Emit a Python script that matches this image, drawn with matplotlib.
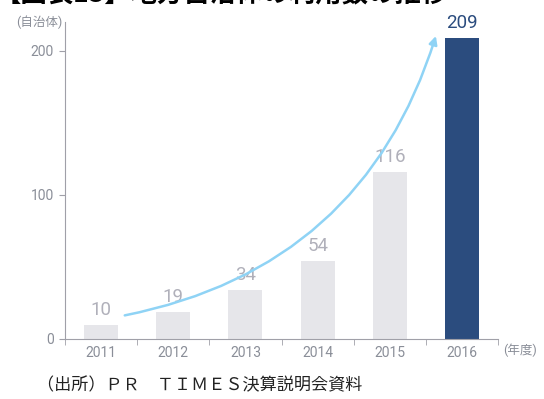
import matplotlib.pyplot as plt
import numpy as np

plt.rcParams['font.family'] = ['Roboto', 'Noto Sans CJK JP', 'DejaVu Sans']

# data
years = ['2011', '2012', '2013', '2014', '2015', '2016']
counts = [10, 19, 34, 54, 116, 209]
yticks = [0, 100, 200]

gray_bar = '#e6e6ea'
navy_bar = '#2b4c7e'
tick_col = '#8a8e98'
label_col = '#b0b0ba'

fig = plt.figure(figsize=(5.44, 3.99), dpi=100, facecolor='white')
ax = fig.add_axes([0.1195, 0.1504, 0.796, 0.795])

x = np.arange(len(years))
colors = [gray_bar] * (len(years) - 1) + [navy_bar]
ax.bar(x, counts, width=0.47, color=colors, zorder=2)

for xi, v, c in zip(x, counts, colors):
    lc = navy_bar if c == navy_bar else label_col
    ax.text(xi, v + 4, str(v), ha='center', va='bottom', fontsize=13.5, color=lc)

ax.set_xlim(-0.5, 5.5)
ax.set_ylim(0, 220)
ax.set_yticks(yticks)
ax.set_yticklabels([str(t) for t in yticks], fontsize=10, color=tick_col)
ax.set_xticks(x)
ax.set_xticklabels(years, fontsize=10, color=tick_col)
ax.set_xticks(np.arange(-0.5, 6, 1), minor=True)
ax.tick_params(axis='x', which='major', length=0, pad=5)
ax.tick_params(axis='x', which='minor', length=4, color='#a0a0a8', direction='out')
ax.tick_params(axis='y', length=4, color='#a0a0a8', pad=4)

for s in ['top', 'right']:
    ax.spines[s].set_visible(False)
ax.spines['left'].set_color('#a0a0a8')
ax.spines['bottom'].set_color('#a0a0a8')

# growth arrow
ax.annotate('', xy=(4.65, 212), xytext=(0.29, 16),
            arrowprops=dict(arrowstyle='-|>', color='#8fd3f5', lw=1.8,
                            connectionstyle='arc3,rad=0.3', mutation_scale=12),
            zorder=3)

fig.text(0.03, 0.945, '(自治体)', fontsize=9, color=tick_col, ha='left', va='center')
fig.text(0.925, 0.122, '(年度)', fontsize=9, color=tick_col, ha='left', va='center')

# cropped title
fig.text(-0.01, 0.978, '【図表13】地方自治体の利用数の推移', fontsize=19, fontweight='bold',
         color='black', ha='left', va='bottom', family=['Noto Sans CJK JP'])

fig.text(0.068, 0.035, '（出所）ＰＲ　ＴＩＭＥＳ決算説明会資料', fontsize=12.3,
         color='#222222', ha='left', va='center', family=['Noto Sans CJK JP'])

fig.savefig('out.png', dpi=100, facecolor='white')
